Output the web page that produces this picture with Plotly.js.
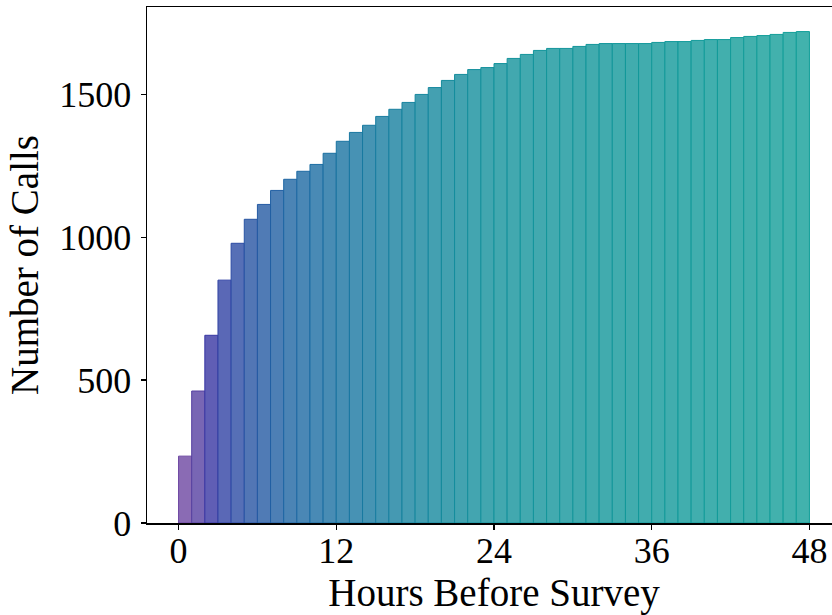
<!DOCTYPE html>
<html>
<head>
<meta charset="utf-8">
<script src="https://cdn.plot.ly/plotly-3.0.1.min.js"></script>
<style>
html,body{margin:0;padding:0;overflow:hidden;background:#fff;width:832px;height:615px;}
#chart{width:842px;height:615px;}
</style>
</head>
<body>
<div id="chart"></div>
<script>
// Bin start (hours before survey), 1-hour bins
const hours = [0,1,2,3,4,5,6,7,8,9,10,11,12,13,14,15,16,17,18,19,20,21,22,23,
               24,25,26,27,28,29,30,31,32,33,34,35,36,37,38,39,40,41,42,43,44,45,46,47];
// Cumulative number of calls
const calls = [234,462,657,850,979,1063,1115,1164,1203,1231,1255,1294,1336,1367,1392,1423,
               1448,1472,1500,1524,1549,1570,1587,1594,1608,1626,1640,1654,1661,1661,1668,1675,
               1678,1678,1678,1678,1682,1685,1685,1689,1692,1692,1699,1703,1706,1710,1717,1720];
const xTicks = [0,12,24,36,48];
const yTicks = [0,500,1000,1500];

// Colour stops (bin index -> face colour)
const faceStops = [
  [0, [138,107,180]], [1, [120,102,180]], [2, [96,94,181]], [3, [90,104,182]],
  [5, [82,118,181]], [8, [75,132,181]], [12, [71,143,180]], [18, [68,158,177]],
  [24, [66,168,175]], [34, [65,172,174]], [47, [66,178,173]]
];
function lerpColor(stops, i){
  for(let k=0;k<stops.length-1;k++){
    const a=stops[k], b=stops[k+1];
    if(i>=a[0] && i<=b[0]){
      const t=(i-a[0])/(b[0]-a[0]);
      return a[1].map((v,j)=>Math.round(v+(b[1][j]-v)*t));
    }
  }
  return stops[stops.length-1][1];
}
const faceColors = hours.map((h,i)=>{const c=lerpColor(faceStops,i);return `rgb(${c[0]},${c[1]},${c[2]})`;});
const edgeColors = hours.map((h,i)=>{const c=lerpColor(faceStops,i).map(v=>Math.max(0,Math.min(255,Math.round((v-51)/0.8))));return `rgb(${c[0]},${c[1]},${c[2]})`;});

const font = "'Liberation Serif','Times New Roman',serif";

const trace = {
  type: 'bar',
  x: hours.map(h=>h+0.5),
  y: calls,
  width: 1,
  marker: {color: faceColors, line: {color: edgeColors, width: 1}},
  hoverinfo: 'x+y'
};

const layout = {
  width: 842, height: 615,
  margin: {l:147, r:1, t:7, b:92},
  paper_bgcolor: '#fff', plot_bgcolor: '#fff',
  showlegend: false,
  bargap: 0,
  font: {family: font, color: '#000', size: 36},
  xaxis: {
    range: [-2.4, 50.4],
    tickvals: xTicks, ticktext: xTicks.map(String),
    ticks: 'outside', ticklen: 5, tickwidth: 1.5, tickcolor: '#000',
    ticklabelstandoff: -10,
    showline: true, linecolor: '#000', linewidth: 1.5, mirror: true,
    showgrid: false, zeroline: false,
    tickfont: {family: font, size: 36, color: '#000'},
    title: {text: 'Hours Before Survey', font: {family: font, size: 39, color: '#000'}, standoff: 6},
    automargin: false
  },
  yaxis: {
    range: [0, 1806],
    tickvals: yTicks, ticktext: yTicks.map(String),
    ticks: 'outside', ticklen: 5, tickwidth: 1.5, tickcolor: '#000',
    ticklabelstandoff: 2,
    showline: true, linecolor: '#000', linewidth: 1.5, mirror: true,
    showgrid: false, zeroline: false,
    tickfont: {family: font, size: 36, color: '#000'},
    title: {text: 'Number of Calls', font: {family: font, size: 39, color: '#000'}, standoff: 8},
    automargin: false
  }
};

Plotly.newPlot('chart', [trace], layout, {displayModeBar: false, staticPlot: true});
</script>
</body>
</html>
